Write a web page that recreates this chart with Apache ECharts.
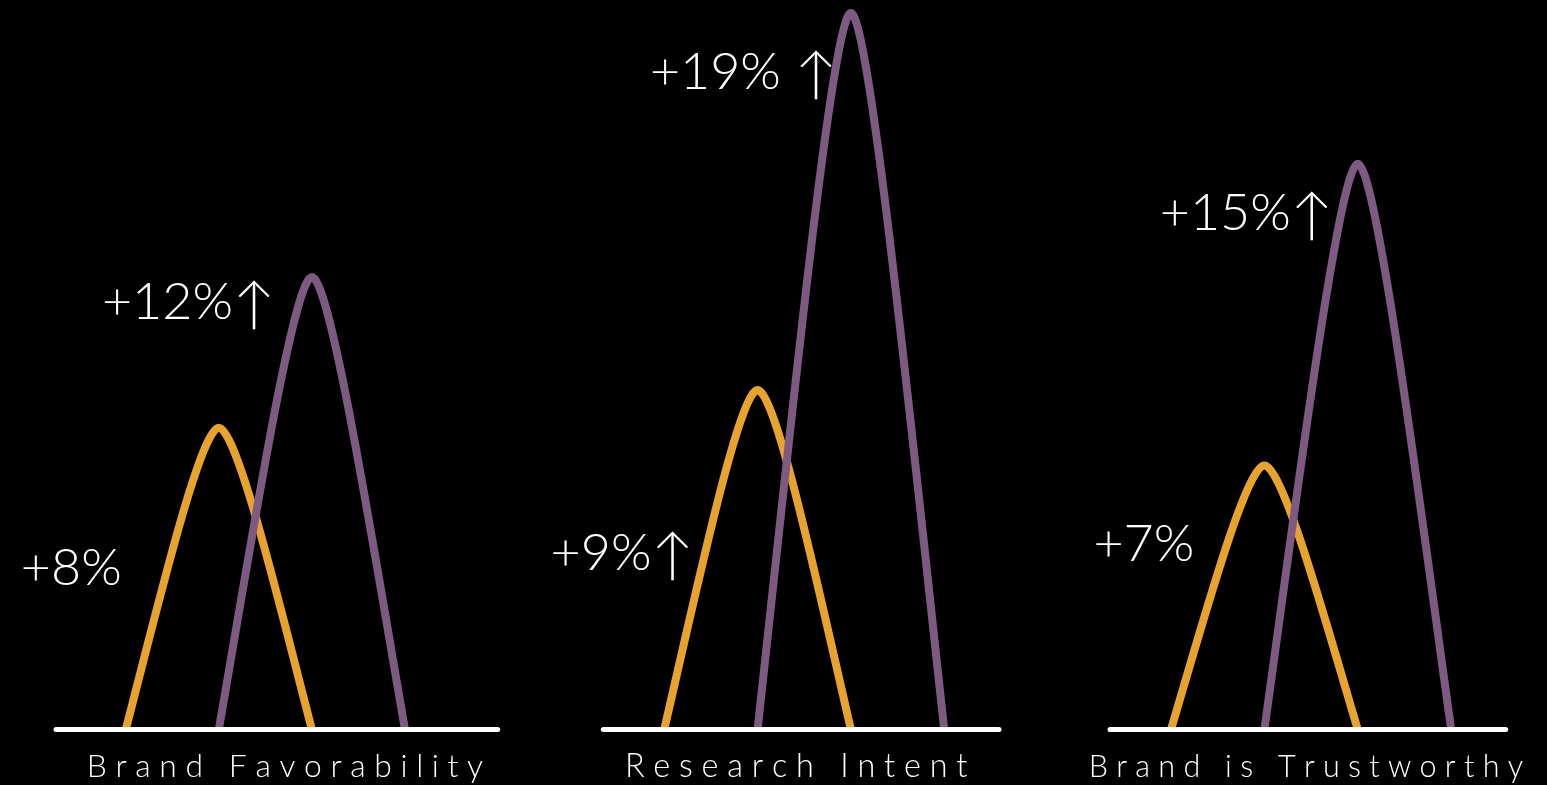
<!DOCTYPE html>
<html>
<head>
<meta charset="utf-8">
<style>
html,body{margin:0;padding:0;background:#000;}
#chart{width:1547px;height:785px;}
</style>
<script src="https://cdn.jsdelivr.net/npm/echarts@6/dist/echarts.min.js"></script>
</head>
<body>
<div id="chart"></div>
<script>
// ---- data ----
const categories = ['Brand Favorability', 'Research Intent', 'Brand is Trustworthy'];
const seriesNames = ['Series 1', 'Series 2'];
const series1Values = [8, 9, 7];
const series2Values = [12, 19, 15];
const series1Labels = ['+8%', '+9%\u2191', '+7%'];
const series2Labels = ['+12%\u2191', '+19% \u2191', '+15%\u2191'];

// ---- layout / style ----
const colors = ['#E8A22E', '#7E5A82'];
const gridLayout = [
  { left: 56, width: 441.7, xMin: -0.749, xMax: 3.996 },
  { left: 603.3, width: 395.7, xMin: -0.653, xMax: 3.587 },
  { left: 1110, width: 395.7, xMin: -0.653, xMax: 3.584 }
];
const nameShift = [16, -10, -4];
const nameSize = [31.8, 32.4, 30.5];
// label offsets (left edge dx, middle dy) from each peak, per series per category
const labelOffsets = [
  [[-198, 140], [-207, 163], [-171, 79]],
  [[-210, 25], [-201, 59], [-198, 49]]
];
const labelFont = 'Lato';

function spaced(s) {
  return s.split(' ').map(w => w.split('').join(' ')).join('   ');
}
function richArrow(s) {
  return s.replace('\u2191', '{a|\u2191}');
}

const yMax = Math.max(...series1Values, ...series2Values);
const allValues = [series1Values, series2Values];
const allLabels = [series1Labels, series2Labels];

const grids = gridLayout.map(g => ({
  left: g.left, width: g.width, top: 13, bottom: 55.5,
  containLabel: false, outerBoundsMode: 'none'
}));
const xAxes = gridLayout.map((g, i) => ({
  gridIndex: i, type: 'value', min: g.xMin, max: g.xMax, z: 10,
  axisLine: { show: true, onZero: false, lineStyle: { color: '#ffffff', width: 5 } },
  axisTick: { show: false }, axisLabel: { show: false }, splitLine: { show: false },
  name: spaced(categories[i]), nameLocation: 'middle', nameGap: 22 - (nameSize[i] - 30) / 2,
  nameTextStyle: {
    color: '#ffffff', fontFamily: 'Lato', fontSize: nameSize[i], fontWeight: 300,
    padding: nameShift[i] >= 0 ? [0, 0, 0, nameShift[i]] : [0, -nameShift[i], 0, 0]
  }
}));
const yAxes = gridLayout.map((g, i) => ({
  gridIndex: i, type: 'value', min: 0, max: yMax, show: false
}));

function renderArc(params, api) {
  const s = api.value(0);
  const v = api.value(1);
  const ci = params.seriesIndex;
  const p0 = api.coord([s, 0]);
  const pk = api.coord([s + 1, v]);
  const p2 = api.coord([s + 2, 0]);
  const dx1 = pk[0] - p0[0];
  const dy = pk[1] - p0[1];
  const dx2 = p2[0] - pk[0];
  const d = 'M' + p0[0] + ' ' + p0[1] +
    ' C' + (p0[0] + 0.33 * dx1) + ' ' + (p0[1] + 0.39 * dy) + ' ' +
    (p0[0] + 0.8 * dx1) + ' ' + pk[1] + ' ' + pk[0] + ' ' + pk[1] +
    ' C' + (p2[0] - 0.8 * dx2) + ' ' + pk[1] + ' ' +
    (p2[0] - 0.33 * dx2) + ' ' + (p2[1] + 0.39 * dy) + ' ' + p2[0] + ' ' + p2[1];
  const off = labelOffsets[s][ci];
  return {
    type: 'group',
    children: [
      { type: 'path', shape: { pathData: d },
        style: { fill: 'none', stroke: colors[s], lineWidth: 8, lineCap: 'butt' } },
      { type: 'text', x: pk[0] + off[0], y: pk[1] + off[1],
        style: { text: richArrow(allLabels[s][ci]), fill: '#ffffff', fontFamily: labelFont,
          fontWeight: 300, fontSize: 52, align: 'left', verticalAlign: 'middle',
          rich: { a: { fontFamily: labelFont, fontSize: 56, fill: '#ffffff',
            fontWeight: 300, padding: [6, 0, 0, 0] } } } }
    ]
  };
}

const series = categories.map((c, i) => ({
  type: 'custom', name: c, xAxisIndex: i, yAxisIndex: i, z: 2,
  renderItem: renderArc,
  data: allValues.map((vals, s) => ({ name: seriesNames[s], value: [s, vals[i]] })),
  silent: true
}));

const chart = echarts.init(document.getElementById('chart'));
chart.setOption({
  backgroundColor: '#000000',
  animation: false,
  grid: grids, xAxis: xAxes, yAxis: yAxes, series: series
});
</script>
</body>
</html>
